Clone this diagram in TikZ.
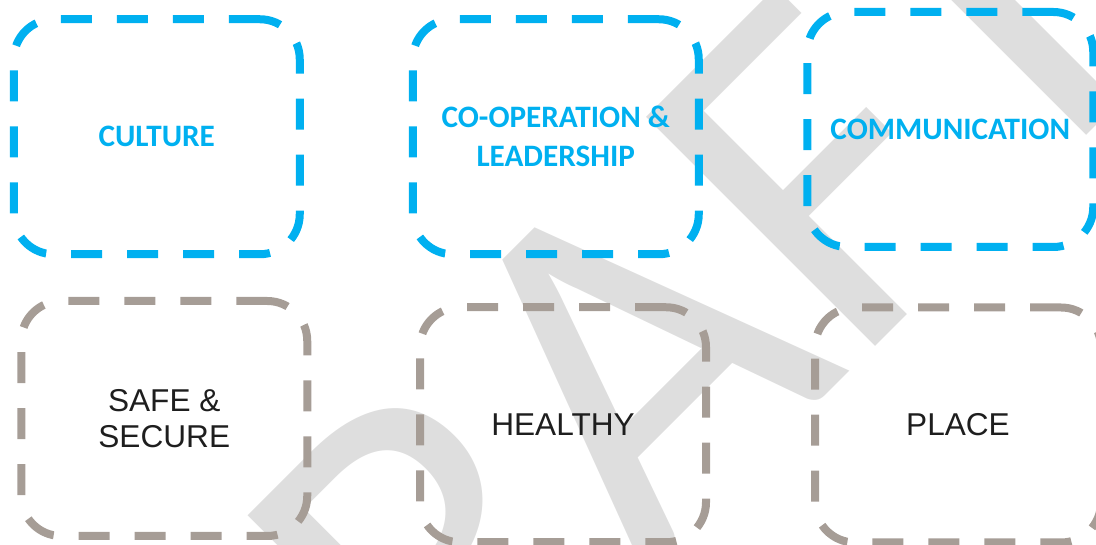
\documentclass[tikz,border=0pt]{standalone}
\usepackage{fontspec}
\setmainfont{Liberation Sans}
\newfontfamily\carlito{Carlito}
\usepackage{tikz}
\definecolor{sky}{RGB}{0,176,240}
\definecolor{taupe}{RGB}{166,157,150}
\definecolor{ink}{RGB}{30,30,30}
\tikzstyle{box} = [draw,shape=rectangle,rounded corners=20pt,line width=4pt,dash pattern=on 15.5pt off 12.5pt,minimum width=143pt,minimum height=117.5pt,align=center,inner sep=0pt]
\tikzstyle{topbox} = [box,color=sky,font=\carlito\bfseries\fontsize{15.6}{19.5}\selectfont]
\tikzstyle{lowbox} = [box,draw=taupe,text=ink,font=\fontsize{15.8}{18.3}\selectfont]
\tikzstyle{watermark} = [text=black!13,inner sep=0pt,font=\carlito\fontsize{252.5}{252.5}\selectfont]
\pgfdeclarelayer{background}
\pgfsetlayers{background,main}

\begin{document}
\begin{tikzpicture}[x=0.5pt,y=0.5pt]
\useasboundingbox (0,0) rectangle (1096,545);
\clip (0,0) rectangle (1096,545);

\node[topbox] (culture) at (156.75,408.25) {CULTURE};
\node[topbox] (coop)    at (555.75,408.25) {CO-OPERATION \&\\LEADERSHIP};
\node[topbox] (comm)    at (950.25,415.5)  {COMMUNICATION};

\node[lowbox] (safe)    at (164.25,126.5)  {SAFE \&\\SECURE};
\node[lowbox] (healthy) at (563,120.25)    {HEALTHY};
\node[lowbox] (place)   at (958,120)       {PLACE};

\begin{pgfonlayer}{background}
\clip (0,0) rectangle (1096,545);
\node[watermark,rotate=45,anchor=base west] (draft) at (231.2,-445.7) {DRAFT};
\end{pgfonlayer}
\end{tikzpicture}
\end{document}
